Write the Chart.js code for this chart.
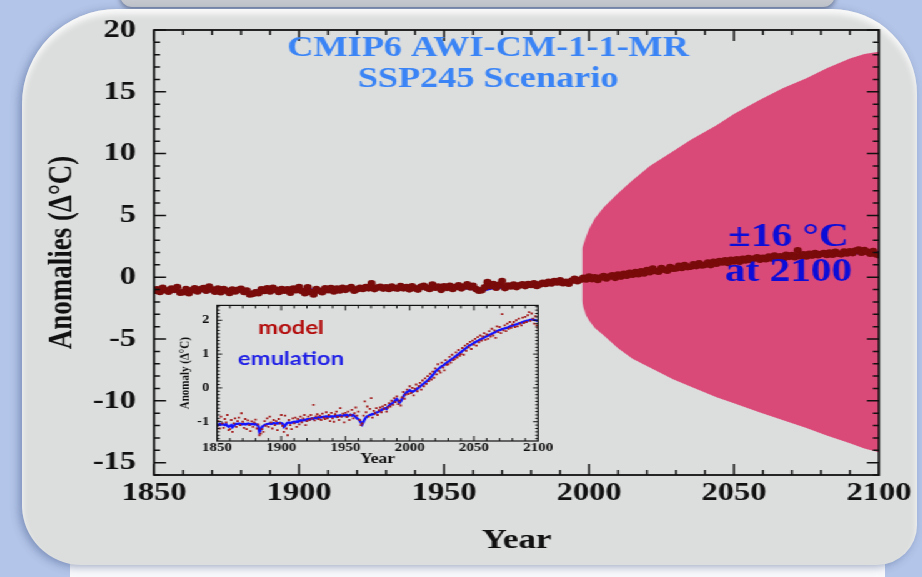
<!DOCTYPE html>
<html lang="en">
<head>
  <meta charset="UTF-8" />
  <title>CMIP6 AWI-CM-1-1-MR SSP245 Scenario</title>
  <script src="https://cdn.jsdelivr.net/npm/chart.js"></script>
  <style>
    html, body { margin: 0; padding: 0; }
    body {
      width: 922px;
      height: 577px;
      overflow: hidden;
      position: relative;
      background: #b3c5e8;
    }
    .topbar {
      position: absolute; left: 120px; top: -12px; width: 715px; height: 19px;
      background: #c4c7cd; border-radius: 0 0 12px 12px;
      box-shadow: 0 2px 5px rgba(50, 60, 90, 0.6);
    }
    .whiteband {
      position: absolute; left: 70px; top: 540px; width: 815px; height: 40px;
      background: #f8f9fb;
    }
    .panel {
      position: absolute; left: 22px; top: 9px; width: 895px; height: 556px;
      background: #dcdedd;
      border-radius: 95px 85px 40px 60px;
      box-shadow: inset 0 5px 6px rgba(255, 255, 255, 0.85), -3px 2px 8px rgba(60, 80, 130, 0.45);
    }
    /* the original slide is stretched sideways, so the charts are too */
    .stage {
      position: absolute; left: 0; top: 0; width: 738px; height: 577px;
      transform: scaleX(1.25); transform-origin: 0 0;
    }
    #main { position: absolute; left: 0; top: 0; }
    #inset { position: absolute; left: 130px; top: 292px; }
  </style>
</head>
<body>
  <div class="topbar"></div>
  <div class="whiteband"></div>
  <div class="panel"></div>
  <div class="stage">
    <canvas id="main" width="738" height="577"></canvas>
    <canvas id="inset" width="320" height="180"></canvas>
  </div>

  <script>
    // yearly values, 1850 .. 2100
    const firstYear = 1850;

    const emulation = [
      -1.08,-1.10,-1.07,-1.09,-1.06,-1.08,-1.10,-1.07,-1.12,-1.15,
      -1.13,-1.10,-1.16,-1.12,-1.08,-1.06,-1.07,-1.05,-1.06,-1.08,
      -1.07,-1.06,-1.08,-1.07,-1.05,-1.06,-1.08,-1.07,-1.06,-1.08,
      -1.07,-1.09,-1.12,-1.30,-1.24,-1.16,-1.12,-1.10,-1.08,-1.07,
      -1.06,-1.05,-1.07,-1.06,-1.04,-1.05,-1.06,-1.04,-1.05,-1.03,
      -1.04,-1.06,-1.15,-1.12,-1.06,-1.03,-1.02,-1.04,-1.03,-1.01,
      -1.00,-1.02,-0.99,-1.01,-0.97,-0.96,-0.98,-0.95,-0.94,-0.96,
      -0.93,-0.92,-0.94,-0.91,-0.90,-0.92,-0.89,-0.88,-0.90,-0.87,
      -0.88,-0.86,-0.87,-0.85,-0.86,-0.84,-0.86,-0.83,-0.85,-0.84,
      -0.86,-0.84,-0.83,-0.85,-0.82,-0.83,-0.81,-0.84,-0.82,-0.80,
      -0.82,-0.80,-0.83,-0.81,-0.79,-0.82,-0.80,-0.83,-0.86,-0.90,
      -0.92,-0.96,-1.02,-1.08,-1.00,-0.93,-0.87,-0.84,-0.82,-0.80,
      -0.79,-0.77,-0.78,-0.75,-0.73,-0.72,-0.70,-0.68,-0.66,-0.63,
      -0.61,-0.60,-0.62,-0.56,-0.52,-0.49,-0.47,-0.44,-0.40,-0.36,
      -0.33,-0.38,-0.44,-0.40,-0.33,-0.26,-0.20,-0.16,-0.12,-0.10,
      -0.07,-0.09,-0.12,-0.10,-0.08,-0.05,-0.02,0.01,0.04,0.07,
      0.10,0.13,0.16,0.19,0.22,0.26,0.30,0.34,0.38,0.43,
      0.48,0.52,0.55,0.58,0.61,0.64,0.66,0.69,0.72,0.75,
      0.78,0.80,0.83,0.86,0.88,0.91,0.94,0.97,1.00,1.03,
      1.06,1.09,1.12,1.15,1.18,1.21,1.24,1.26,1.28,1.30,
      1.33,1.35,1.37,1.39,1.41,1.43,1.45,1.47,1.49,1.51,
      1.53,1.55,1.57,1.58,1.60,1.62,1.64,1.66,1.68,1.70,
      1.71,1.72,1.74,1.75,1.76,1.77,1.78,1.80,1.81,1.83,
      1.84,1.85,1.87,1.88,1.89,1.91,1.92,1.93,1.95,1.96,
      1.97,1.98,1.99,2.00,2.01,2.02,2.02,2.01,2.00,1.99,
      1.98
    ];

    const model = [
      -1.12,-0.98,-1.20,-0.85,-1.05,-1.18,-0.92,-1.02,-0.80,-1.25,
      -1.22,-0.95,-1.30,-1.05,-0.90,-1.15,-0.98,-0.88,-1.10,-0.75,
      -1.00,-1.18,-0.92,-1.22,-0.96,-1.10,-1.28,-0.99,-1.15,-1.02,
      -0.94,-1.20,-1.08,-1.40,-1.35,-1.22,-1.30,-0.98,-1.12,-0.90,
      -1.15,-0.85,-1.02,-1.20,-0.95,-1.10,-0.98,-1.25,-0.92,-1.05,
      -0.80,-1.12,-1.30,-0.82,-1.20,-1.40,-0.95,-1.10,-1.22,-0.90,
      -1.05,-0.88,-1.15,-0.92,-1.08,-0.85,-1.02,-0.90,-0.80,-1.10,
      -0.98,-0.85,-0.95,-0.80,-0.90,-0.50,-0.96,-0.84,-0.78,-0.92,
      -0.82,-0.95,-0.76,-0.88,-0.92,-0.72,-0.90,-0.80,-0.98,-0.74,
      -0.90,-1.00,-0.78,-0.70,-0.86,-0.95,-0.60,-0.85,-0.76,-1.02,
      -0.74,-0.86,-0.70,-0.95,-0.80,-0.65,-0.90,-0.75,-0.58,-0.82,
      -0.70,-0.95,-1.10,-1.05,-0.82,-0.40,-0.72,-0.55,-0.85,-0.62,
      -0.30,-0.88,-0.68,-0.75,-0.60,-0.80,-0.66,-0.58,-0.72,-0.55,
      -0.62,-0.50,-0.70,-0.58,-0.45,-0.55,-0.38,-0.50,-0.30,-0.42,
      -0.25,-0.48,-0.38,-0.52,-0.28,-0.12,-0.32,-0.20,-0.05,-0.18,
      0.05,-0.15,0.00,-0.22,-0.02,0.10,-0.10,0.05,0.15,-0.05,
      0.22,0.05,0.28,0.12,0.35,0.20,0.42,0.25,0.48,0.30,
      0.58,0.40,0.70,0.50,0.45,0.75,0.60,0.52,0.82,0.68,
      0.70,0.92,0.75,0.98,0.82,0.85,1.05,0.90,1.12,0.95,
      1.00,1.18,0.98,1.25,1.10,1.30,1.20,1.36,1.15,1.40,
      1.28,1.45,1.25,1.50,1.35,1.55,1.40,1.52,1.62,1.42,
      1.58,1.45,1.68,1.52,1.75,1.55,1.70,1.48,1.82,1.65,
      1.80,1.62,2.18,1.70,1.85,1.68,1.90,1.75,1.95,1.78,
      1.88,1.95,1.80,2.00,1.82,2.05,1.90,1.85,2.08,1.92,
      2.10,1.95,2.15,2.24,1.98,2.20,2.05,1.90,2.12,1.85,
      1.78
    ];

    // emulation uncertainty band (pink)
    const bandYears = [1997.6, 1998, 1999, 2000, 2002, 2005, 2010, 2015, 2021, 2029, 2035, 2044, 2050, 2059, 2067, 2075, 2082, 2090, 2095, 2100];
    const bandUpper = [2.3, 2.6, 3.3, 3.9, 4.75, 5.65, 6.8, 7.85, 9.0, 10.2, 11.1, 12.3, 13.2, 14.35, 15.3, 16.1, 16.9, 17.7, 18.05, 18.25];
    const bandLower = [-1.9, -2.4, -3.1, -3.5, -4.1, -4.7, -5.75, -6.6, -7.3, -8.25, -8.85, -9.7, -10.2, -10.95, -11.57, -12.2, -12.8, -13.44, -13.85, -14.15];

    const xTicks = [1850, 1900, 1950, 2000, 2050, 2100];
    const yTicks = [-15, -10, -5, 0, 5, 10, 15, 20];
    const insetYTicks = [-1, 0, 1, 2];

    const titleLines = ['CMIP6 AWI-CM-1-1-MR', 'SSP245 Scenario'];
    const noteLines = ['\u00b116 \u00b0C', 'at 2100'];
    const insetLabels = ['model', 'emulation'];

    const serif = 'Liberation Serif';
    const ink = '#111111';

    const modelPts = model.map((v, i) => ({ x: firstYear + i, y: v }));
    const emulPts = emulation.map((v, i) => ({ x: firstYear + i, y: v }));
    const upperPts = bandYears.map((yr, i) => ({ x: yr, y: bandUpper[i] }));
    const lowerPts = bandYears.map((yr, i) => ({ x: yr, y: bandLower[i] }));

    // box round the plot with inward major/minor ticks on all four sides
    function framePlugin(o) {
      return {
        id: 'frame',
        afterDatasetsDraw(chart) {
          const { ctx, chartArea: a, scales: { x, y } } = chart;
          ctx.save();
          ctx.strokeStyle = ink;
          ctx.lineWidth = o.tickWidth;
          ctx.beginPath();
          for (let k = Math.ceil(x.min / o.xMinor); k * o.xMinor <= x.max + 1e-9; k++) {
            const v = k * o.xMinor;
            const px = x.getPixelForValue(v);
            const len = o.xMajor.includes(Math.round(v * 100) / 100) ? o.xLong : o.xShort;
            ctx.moveTo(px, a.bottom); ctx.lineTo(px, a.bottom - len);
            ctx.moveTo(px, a.top); ctx.lineTo(px, a.top + len);
          }
          for (let k = Math.ceil(y.min / o.yMinor - 1e-9); k * o.yMinor <= y.max + 1e-9; k++) {
            const v = k * o.yMinor;
            const py = y.getPixelForValue(v);
            const len = o.yMajor.includes(Math.round(v * 100) / 100) ? o.yLong : o.yShort;
            ctx.moveTo(a.left, py); ctx.lineTo(a.left + len, py);
            ctx.moveTo(a.right, py); ctx.lineTo(a.right - len, py);
          }
          ctx.stroke();
          ctx.lineWidth = o.frameWidth;
          ctx.strokeRect(a.left, a.top, a.right - a.left, a.bottom - a.top);
          ctx.restore();
        }
      };
    }

    // free text placed in data coordinates
    function textPlugin(items) {
      return {
        id: 'notes',
        afterDatasetsDraw(chart) {
          const { ctx, scales: { x, y } } = chart;
          ctx.save();
          ctx.textAlign = 'center';
          ctx.textBaseline = 'middle';
          items.forEach(t => {
            ctx.font = t.font;
            ctx.fillStyle = t.color;
            ctx.fillText(t.text, x.getPixelForValue(t.x), y.getPixelForValue(t.y));
          });
          ctx.restore();
        }
      };
    }

    const yearLabel = v => String(v);

    new Chart(document.getElementById('main'), {
      type: 'line',
      data: {
        datasets: [
          {
            label: 'model',
            data: modelPts,
            borderColor: '#7a0b0b',
            borderWidth: 2,
            pointRadius: 3.3,
            pointBorderWidth: 0,
            pointBackgroundColor: '#7a0b0b',
            order: 0
          },
          {
            label: 'emulation',
            data: emulPts,
            borderColor: '#0a0af0',
            borderWidth: 3.5,
            pointRadius: 0,
            order: 1
          },
          {
            label: 'range upper',
            data: upperPts,
            borderWidth: 0,
            pointRadius: 0,
            backgroundColor: '#da4a79',
            fill: '+1',
            order: 2
          },
          {
            label: 'range lower',
            data: lowerPts,
            borderWidth: 0,
            pointRadius: 0,
            fill: false,
            order: 3
          }
        ]
      },
      options: {
        responsive: false,
        animation: false,
        devicePixelRatio: 1,
        layout: { padding: { left: 30, right: 34.8, top: 28.5, bottom: 0 } },
        plugins: { legend: { display: false }, tooltip: { enabled: false } },
        scales: {
          x: {
            type: 'linear',
            min: 1850,
            max: 2100,
            afterBuildTicks: s => { s.ticks = xTicks.map(v => ({ value: v })); },
            afterFit: s => { s.height = 102; },
            grid: { display: false, drawTicks: false },
            border: { display: false },
            ticks: { callback: yearLabel, padding: 2.4, maxRotation: 0, color: ink, font: { family: serif, weight: 'bold', size: 26 } },
            title: { display: true, text: 'Year', color: ink, padding: { top: 0, bottom: 19 }, font: { family: serif, weight: 'bold', size: 28 } }
          },
          y: {
            min: -16,
            max: 20,
            afterBuildTicks: s => { s.ticks = yTicks.map(v => ({ value: v })); },
            afterFit: s => { s.width = 93.2; },
            grid: { display: false, drawTicks: false },
            border: { display: false },
            ticks: { padding: 14.4, color: ink, font: { family: serif, weight: 'bold', size: 26 } },
            title: { display: true, text: 'Anomalies (\u0394\u00b0C)', color: ink, padding: { top: 4, bottom: 4 }, font: { family: serif, weight: 'bold', size: 27 } }
          }
        }
      },
      plugins: [
        framePlugin({ tickWidth: 1.5, frameWidth: 1.8, xMinor: 10, xMajor: xTicks, xLong: 11, xShort: 5, yMinor: 1, yMajor: yTicks, yLong: 9.6, yShort: 4.8 }),
        textPlugin([
          { text: titleLines[0], x: 1965.2, y: 18.5, font: 'bold 29px "Liberation Serif"', color: '#3a84f6' },
          { text: titleLines[1], x: 1965.2, y: 16.0, font: 'bold 29px "Liberation Serif"', color: '#3a84f6' },
          { text: noteLines[0], x: 2068.8, y: 3.2, font: 'bold 33px "Liberation Serif"', color: '#0d0dd8' },
          { text: noteLines[1], x: 2068.8, y: 0.4, font: 'bold 33px "Liberation Serif"', color: '#0d0dd8' }
        ])
      ]
    });

    new Chart(document.getElementById('inset'), {
      type: 'line',
      data: {
        datasets: [
          {
            label: 'model',
            data: modelPts,
            showLine: false,
            pointStyle: 'rect',
            pointRadius: 1.3,
            pointBorderWidth: 0,
            pointBackgroundColor: '#a31c1c',
            order: 0
          },
          {
            label: 'emulation',
            data: emulPts,
            borderColor: '#1414ff',
            borderWidth: 2.3,
            pointRadius: 0,
            order: 1
          }
        ]
      },
      options: {
        responsive: false,
        animation: false,
        devicePixelRatio: 1,
        layout: { padding: { left: 11.4, right: 19.6, top: 12, bottom: 0 } },
        plugins: { legend: { display: false }, tooltip: { enabled: false } },
        scales: {
          x: {
            type: 'linear',
            min: 1850,
            max: 2100,
            afterBuildTicks: s => { s.ticks = xTicks.map(v => ({ value: v })); },
            afterFit: s => { s.height = 31; },
            grid: { display: false, drawTicks: false },
            border: { display: false },
            ticks: { callback: yearLabel, padding: 0.5, maxRotation: 0, color: ink, font: { family: serif, weight: 'bold', size: 12, lineHeight: 1 } },
            title: { display: true, text: 'Year', color: ink, padding: { top: 0, bottom: 6 }, font: { family: serif, weight: 'bold', size: 14, lineHeight: 1 } }
          },
          y: {
            min: -1.57,
            max: 2.44,
            afterBuildTicks: s => { s.ticks = insetYTicks.map(v => ({ value: v })); },
            afterFit: s => { s.width = 32.2; },
            grid: { display: false, drawTicks: false },
            border: { display: false },
            ticks: { padding: 6.2, color: ink, font: { family: serif, weight: 'bold', size: 12 } },
            title: { display: true, text: 'Anomaly (\u0394\u00b0C)', color: ink, padding: { top: 0, bottom: 0 }, font: { family: serif, weight: 'bold', size: 11 } }
          }
        }
      },
      plugins: [
        framePlugin({ tickWidth: 1, frameWidth: 1.2, xMinor: 10, xMajor: xTicks, xLong: 5, xShort: 3, yMinor: 0.1, yMajor: insetYTicks, yLong: 4, yShort: 2.2 }),
        textPlugin([
          { text: insetLabels[0], x: 1907.6, y: 1.77, font: 'bold 19px Lato', color: '#b30d0d' },
          { text: insetLabels[1], x: 1907.6, y: 0.86, font: 'bold 19px Lato', color: '#2222e6' }
        ])
      ]
    });
  </script>
</body>
</html>
